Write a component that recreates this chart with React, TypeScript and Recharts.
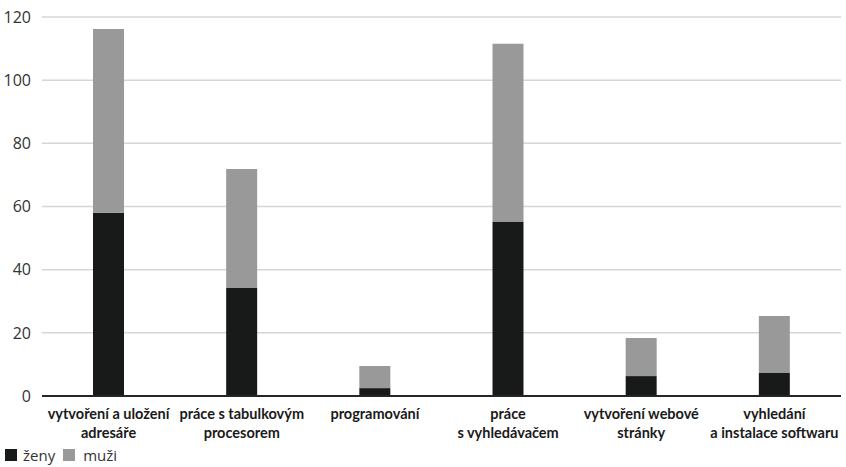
import { Bar, BarChart, CartesianGrid, Legend, XAxis, YAxis } from 'recharts';

const categories = [
  'vytvoření a uložení\nadresáře',
  'práce s tabulkovým\nprocesorem',
  'programování',
  'práce\ns vyhledávačem',
  'vytvoření webové\nstránky',
  'vyhledání\na instalace softwaru',
];
const zenyValues = [58, 34.2, 2.5, 55.1, 6.3, 7.3];
const muziValues = [58.2, 37.7, 7, 56.4, 12.1, 18];
const yTicks = [0, 20, 40, 60, 80, 100, 120];

const data = categories.map((name, i) => ({ name, zeny: zenyValues[i], muzi: muziValues[i] }));

const CategoryTick = ({ x, y, payload }: any) => {
  const lines = String(payload.value).split('\n');
  return (
    <text
      x={x}
      y={y + 15}
      textAnchor="middle"
      fill="#1a1a1a"
      style={{ fontFamily: 'Lato', fontWeight: 700, fontSize: 14.5 }}
    >
      {lines.map((line, i) => (
        <tspan key={i} x={x} dy={i === 0 ? 0 : 19}>
          {line}
        </tspan>
      ))}
    </text>
  );
};

const LegendContent = () => (
  <div style={{ display: 'flex', alignItems: 'center', fontFamily: 'Open Sans', fontSize: 15, color: '#333' }}>
    <span style={{ width: 12, height: 12, background: '#181a19', display: 'inline-block', marginRight: 6 }} />
    <span style={{ marginRight: 8 }}>ženy</span>
    <span style={{ width: 12, height: 12, background: '#999999', display: 'inline-block', marginRight: 8 }} />
    <span>muži</span>
  </div>
);

export default function App() {
  return (
    <div style={{ position: 'absolute', left: 0, top: 0 }}>
      <BarChart width={846} height={467} data={data} margin={{ top: 17, right: 5, left: 0, bottom: 0 }}>
        <CartesianGrid vertical={false} stroke="#d6d6d6" strokeWidth={1.5} />
        <XAxis
          dataKey="name"
          height={49}
          tick={<CategoryTick />}
          tickLine={false}
          axisLine={{ stroke: '#262626', strokeWidth: 2 }}
          interval={0}
        />
        <YAxis
          width={42}
          domain={[0, 120]}
          ticks={yTicks}
          tickLine={false}
          axisLine={false}
          tickMargin={5}
          tick={{ fontFamily: 'Open Sans', fontSize: 16, fill: '#333333' }}
        />
        <Legend
          verticalAlign="bottom"
          align="left"
          height={22}
          content={<LegendContent />}
          wrapperStyle={{ left: 5, bottom: 0 }}
        />
        <Bar dataKey="zeny" stackId="a" fill="#181a19" barSize={31} isAnimationActive={false} />
        <Bar dataKey="muzi" stackId="a" fill="#999999" barSize={31} isAnimationActive={false} />
      </BarChart>
    </div>
  );
}
